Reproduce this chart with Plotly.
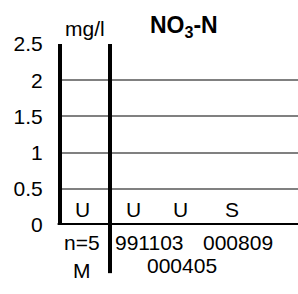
import plotly.graph_objects as go

# Data
categories = ["991103", "000405", "000809"]
values = [0, 0, 0]
flags = ["U", "U", "S"]
summary_flag = "U"
summary_n = "n=5"
summary_stat = "M"
y_ticks = [0, 0.5, 1, 1.5, 2, 2.5]
y_tick_labels = ["0", "0.5", "1", "1.5", "2", "2.5"]
unit = "mg/l"
title = "NO<sub>3</sub>-N"

FONT = "Liberation Sans, Arial, sans-serif"
FS = 21
xs = [i + 1 for i in range(len(categories))]

fig = go.Figure()
fig.add_trace(go.Bar(x=xs, y=values, marker_color="black", width=0.5,
                     showlegend=False, hoverinfo="skip"))

def txt(x, y, text, yref="paper", xshift=0, size=FS):
    return dict(x=x, y=y, xref="x", yref=yref, text=text, showarrow=False,
                xanchor="center", yanchor="middle", xshift=xshift,
                font=dict(size=size, color="black", family=FONT))

ann = []
# flags
ann.append(txt(0, 0.21, summary_flag, yref="y", xshift=-4))
flag_shifts = [-1, -2, 2]
for x, f, s in zip(xs, flags, flag_shifts):
    ann.append(txt(x, 0.21, f, yref="y", xshift=s))
# date labels (staggered)
shifts = [15, 0, 8]
rows = [-0.094, -0.222, -0.094]
for x, c, s, r in zip(xs, categories, shifts, rows):
    ann.append(txt(x, r, c, xshift=s))
ann.append(txt(0, -0.094, summary_n, xshift=-4))
ann.append(txt(0, -0.25, summary_stat, xshift=-4))
# unit and title
ann.append(txt(0, 1.088, unit, xshift=-1))
ann.append(txt(2.05, 1.097, "<b>" + title + "</b>", size=23))

shapes = [
    # divider between summary column and samples
    dict(type="line", xref="x", yref="paper", x0=0.5, x1=0.5, y0=1.0, y1=-0.266,
         line=dict(color="black", width=4)),
    # left axis
    dict(type="line", xref="paper", yref="paper", x0=0, x1=0, y0=0, y1=1.0,
         line=dict(color="black", width=4)),
    # bottom axis
    dict(type="line", xref="paper", yref="y", x0=-0.01, x1=1, y0=0, y1=0,
         line=dict(color="black", width=4)),
]

fig.update_layout(
    width=298, height=294,
    margin=dict(l=60, r=0, t=44, b=69),
    paper_bgcolor="white", plot_bgcolor="white",
    font=dict(family=FONT, size=FS, color="black"),
    annotations=ann, shapes=shapes,
    xaxis=dict(range=[-0.5417, 4.4167], showgrid=False, zeroline=False,
               showticklabels=False, showline=False, fixedrange=True),
    yaxis=dict(range=[0, 2.5], tickvals=y_ticks, ticktext=y_tick_labels,
               showgrid=True, gridcolor="#808080", gridwidth=1.5,
               zeroline=False, showline=False, ticks="outside", ticklen=0,
               ticklabelstandoff=12, tickfont=dict(size=FS, color="black", family=FONT)),
    bargap=0.5,
)

fig.write_html("out.html", config={"displayModeBar": False},
               post_script="document.body.style.margin='0';document.body.style.padding='0';")
